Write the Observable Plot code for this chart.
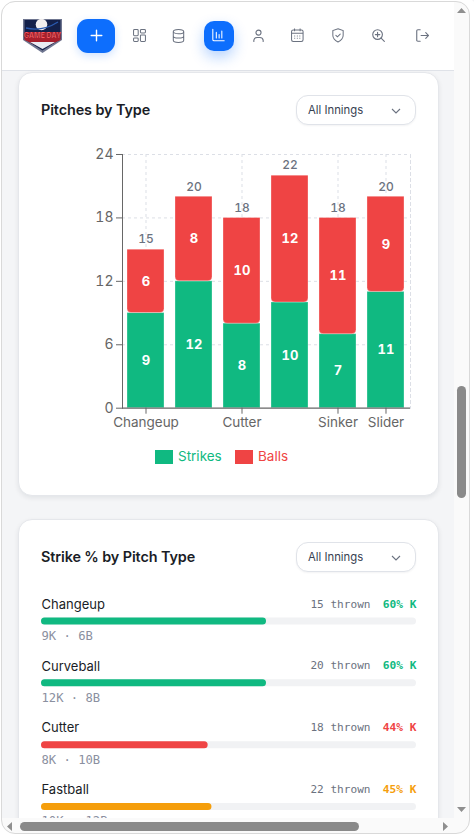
<!DOCTYPE html>
<html><head><meta charset="utf-8">
<script src="https://cdn.jsdelivr.net/npm/d3@7"></script>
<script src="https://cdn.jsdelivr.net/npm/@observablehq/plot@0.6"></script>
<style>
*{box-sizing:border-box}
html,body{margin:0;padding:0;width:474px;height:834px;overflow:hidden;background:#fff;font-family:Inter,sans-serif}
.abs{position:absolute}
#frame{position:absolute;left:0;top:0;width:474px;height:834px;overflow:hidden;background:#f4f5f7}
#nav{left:2px;top:2px;width:452px;height:69px;background:#fff;border-bottom:1px solid #dfe2e8}
.card{background:#fff;border:1px solid #e5e7eb;border-radius:14px;box-shadow:0 2px 5px rgba(16,24,40,.08);left:18px;width:421px}
.title{font-size:14.4px;font-weight:600;color:#1a1d26;left:41px;letter-spacing:-.1px;line-height:20px}
.sel{left:296px;width:120px;height:30px;border:1px solid #e0e3e9;border-radius:12px;background:#fff;font-size:11.3px;color:#374151;line-height:28px;padding-left:11px;box-shadow:0 1px 2px rgba(16,24,40,.05)}
.sel svg{position:absolute;right:14px;top:10px}
.ic{position:absolute}
#sv{left:454px;top:1px;width:20px;height:833px;background:#fafafa}
#sh{left:1px;top:818px;width:473px;height:16px;background:#fafafa}
#outline{left:1px;top:1px;width:469px;height:833px;border:1.5px solid #d9d9d9;border-radius:14px;pointer-events:none;box-shadow:0 0 0 8px #fff}
#legend{left:155px;top:450px;font-size:13.5px;line-height:14px;height:14px;white-space:nowrap}
#legend i{position:absolute;top:0;width:17.500px;height:13.500px}
#legend span{position:absolute;top:-1px}
#main,#rows{position:absolute}
#main svg,#rows svg{display:block;overflow:visible}
</style></head><body>
<div id="frame">
 <div class="abs" id="nav"></div>
 <div class="abs card" style="top:72px;height:424px"></div>
 <div class="abs card" style="top:519px;height:340px"></div>
 <div class="abs title" style="top:100px">Pitches by Type</div>
 <div class="abs sel" style="top:95px">All Innings<svg width="10" height="10" viewBox="0 0 10 10" fill="none" stroke="#6b7280" stroke-width="1.1"><path d="M1 3l4 4 4-4"/></svg></div>
 <div class="abs title" style="top:547px">Strike % by Pitch Type</div>
 <div class="abs sel" style="top:542px">All Innings<svg width="10" height="10" viewBox="0 0 10 10" fill="none" stroke="#6b7280" stroke-width="1.1"><path d="M1 3l4 4 4-4"/></svg></div>
 <div id="main"></div>
 <div id="rows"></div>
 <div class="abs" id="legend">
  <i style="left:0;background:#10b981"></i><span style="left:23px;color:#10b981">Strikes</span>
  <i style="left:80px;background:#ef4444"></i><span style="left:103px;color:#ef4444">Balls</span>
 </div>
 <div class="abs" id="nav2" style="left:0;top:0;width:454px;height:70px">
  <svg class="ic" style="left:22px;top:18px" width="41" height="36" viewBox="0 0 41 36">
   <path d="M1 1h39v21L20.500 35 1 22z" fill="#6f7690"/><path d="M2.500 2h36v19L20.500 32.500 2.500 21z" fill="#13204a"/><path d="M2.500 14h36v8L20.500 30 2.500 22z" fill="#a81f2c"/>
   <circle cx="19.500" cy="6.500" r="5.800" fill="#f1eeee"/><path d="M4 10Q20 14 36 4" fill="none" stroke="#2a5ab0" stroke-width="1.300"/>
   <text x="20.500" y="19.500" font-size="7" font-weight="800" fill="#ff5660" stroke="#111" stroke-width=".2" text-anchor="middle">GAME DAY</text>
   <path d="M8 24h25L20.500 31z" fill="#e8ebf2"/>
  </svg>
  <div class="abs" style="left:77px;top:19px;width:38px;height:34px;border-radius:11px;background:#0d6efd;box-shadow:0 3px 8px rgba(13,110,253,.2)"></div>
  <svg class="ic" style="left:88px;top:27px" width="17" height="17" viewBox="0 0 17 17" stroke="#fff" stroke-width="1.400" stroke-linecap="round"><path d="M8.500 3.200v10.600M3.200 8.500h10.600"/></svg>
  <div class="abs" style="left:204px;top:21px;width:30px;height:30px;border-radius:10px;background:#0d6efd;box-shadow:0 6px 14px rgba(13,110,253,.3)"></div>
  <svg class="ic" style="left:133px;top:29px" width="13" height="13" viewBox="0 0 14 14" fill="none" stroke="#6b7280" stroke-width="1.100"><rect x=".6" y=".6" width="5" height="6.600" rx="1"/><rect x="8" y=".6" width="5.400" height="3.600" rx="1"/><rect x="8" y="6.400" width="5.400" height="7" rx="1"/><rect x=".6" y="9.600" width="5" height="3.800" rx="1"/></svg>
  <svg class="ic" style="left:172px;top:29px" width="13" height="14" viewBox="0 0 15 16" fill="none" stroke="#6b7280" stroke-width="1.200"><ellipse cx="7.500" cy="3" rx="6" ry="2.400"/><path d="M1.500 3v10c0 1.400 2.700 2.400 6 2.400s6-1 6-2.400V3M1.500 8c0 1.400 2.700 2.400 6 2.400s6-1 6-2.400"/></svg>
  <svg class="ic" style="left:211px;top:28px" width="15" height="14" viewBox="0 0 16 16" fill="none" stroke="#fff" stroke-width="1.200" stroke-linecap="round"><path d="M1.500 1.500v11.500a1.500 1.500 0 0 0 1.500 1.500h11.500M5.500 5v6.500M8.700 7.500v4M11.800 3.500v8"/></svg>
  <svg class="ic" style="left:253px;top:29px" width="11" height="14" viewBox="0 0 13 16" fill="none" stroke="#6b7280" stroke-width="1.300"><circle cx="6.500" cy="4" r="3"/><path d="M1 14.500v-1.500a4 4 0 0 1 4-3.200h3a4 4 0 0 1 4 3.200v1.500" stroke-linecap="round"/></svg>
  <svg class="ic" style="left:291px;top:28px" width="13" height="14" viewBox="0 0 14 15" fill="none" stroke="#6b7280" stroke-width="1.100"><rect x=".6" y="2" width="12.400" height="12.400" rx="1.800"/><path d="M.6 5.600h12.400M3.800 .4v3M9.800 .4v3M3.500 8.500h1M6.300 8.500h1M9 8.500h1M3.500 11h1M6.300 11h1M9 11h1"/></svg>
  <svg class="ic" style="left:332px;top:28px" width="12" height="15" viewBox="0 0 13 16" fill="none" stroke="#6b7280" stroke-width="1.100"><path d="M6.500 .7l5.600 2v5c0 3.400-2.400 5.800-5.600 7.300C3.300 13.500.9 11.100.9 7.700v-5z"/><path d="M4.200 7.800l1.700 1.700 3-3" stroke-linecap="round"/></svg>
  <svg class="ic" style="left:372px;top:29px" width="13" height="13" viewBox="0 0 14 14" fill="none" stroke="#6b7280" stroke-width="1.200" stroke-linecap="round"><circle cx="6" cy="6" r="5.200"/><path d="M6 3.600v4.800M3.600 6h4.800M9.800 9.800l3.500 3.500"/></svg>
  <svg class="ic" style="left:416px;top:29px" width="13" height="13" viewBox="0 0 14 14" fill="none" stroke="#6b7280" stroke-width="1.200" stroke-linecap="round"><path d="M4.500 .8H2a1.200 1.200 0 0 0-1.200 1.200v10A1.200 1.200 0 0 0 2 13.200h2.500M5.500 7h8M10.500 4l3 3-3 3"/></svg>
 </div>
 <div class="abs" id="sv"></div>
 <div class="abs" id="sh"></div>
 <div class="abs" style="left:457px;top:386px;width:9px;height:112px;background:#8a8a8a;border-radius:4.500px"></div>
 <div class="abs" style="left:20px;top:822px;width:339px;height:9px;background:#8a8a8a;border-radius:4.500px"></div>
 <svg class="abs" style="left:0;top:0" width="474" height="834" fill="#8f8f8f"><path d="M457 13l4.500-5 4.500 5zM457 807l4.500 5 4.500-5zM12 822v9l-5-4.500zM443 822v9l5-4.500z"/></svg>
 <div class="abs" id="outline"></div>
</div>
<script>
const pitchTypes = ["Changeup","Curveball","Cutter","Fastball","Sinker","Slider"];
const strikes = [9,12,8,10,7,11];
const balls = [6,8,10,12,11,9];
const totals = [15,20,18,22,18,20];
const shownTypes = ["Changeup","Cutter","Sinker","Slider"];
const yTicks = [0,6,12,18,24];
const strikePct = [60,60,44,45];
const pctColors = ["#10b981","#10b981","#ef4444","#f59e0b"];
const rowLabels = ["Changeup","Curveball","Cutter","Fastball"];

const W = 318, H = 271.700;
const sans = "Inter, sans-serif", mono = "'DejaVu Sans Mono', monospace";
const idx = pitchTypes.map((_, i) => i);

const main = Plot.plot({
  width: W, height: H, marginLeft: 30, marginRight: 0, marginTop: 10, marginBottom: 8,
  style:`font-family:${sans};background:transparent;overflow:visible`,
  x:{domain:pitchTypes, paddingInner:.22, paddingOuter:.11, axis:null},
  y:{domain:[0,24], axis:null},
  marks:[
    Plot.gridY(yTicks.slice(1), {stroke:"#dcdfe6", strokeOpacity:1, strokeDasharray:"3 3", strokeWidth:1}),
    Plot.ruleX(shownTypes, {x:d=>d, stroke:"#dcdfe6", strokeDasharray:"3 3"}),
    Plot.frame({anchor:"right", stroke:"#dcdfe6", strokeDasharray:"3 3"}),
    Plot.barY(idx, {x:i=>pitchTypes[i], y:i=>strikes[i], fill:"#10b981", stroke:"#fff", strokeOpacity:.3}),
    Plot.barY(idx, {x:i=>pitchTypes[i], y1:i=>strikes[i], y2:i=>totals[i], fill:"#ef4444", stroke:"#fff", strokeOpacity:.3, ry2:4}),
    Plot.text(idx, {x:i=>pitchTypes[i], y:i=>strikes[i]/2, text:i=>strikes[i], fill:"#fff", fontFamily:sans, fontSize:13, fontWeight:700}),
    Plot.text(idx, {x:i=>pitchTypes[i], y:i=>strikes[i]+balls[i]/2, text:i=>balls[i], fill:"#fff", fontFamily:sans, fontSize:13, fontWeight:700}),
    Plot.text(idx, {x:i=>pitchTypes[i], y:i=>totals[i], text:i=>totals[i], dy:-10, fill:"#6b7280", fontFamily:sans, fontSize:12, fontWeight:500}),
    Plot.axisY({ticks:yTicks, tickSize:6, tickPadding:3, stroke:"#666", color:"#666", fontFamily:sans, fontSize:14, label:null}),
    Plot.frame({anchor:"left", stroke:"#666"}),
    Plot.ruleY([0], {stroke:"#666", strokeWidth:1.200}),
    Plot.axisX(shownTypes, {anchor:"bottom", tickSize:6, tickPadding:3, stroke:"#666", color:"#666", fontFamily:sans, fontSize:13.500, label:null, labelArrow:"none"})
  ]
});
const m = document.getElementById("main");
m.style.left = "92px"; m.style.top = "144px";
m.append(main);

const rows = Plot.plot({
  width: 375, height: 280, margin:0,
  style:`font-family:${sans};background:transparent;overflow:visible`,
  x:{domain:[0,100], axis:null},
  y:{domain:[0,3], range:[0,185.500], axis:null},
  marks:[
    Plot.rect(rowLabels, {x1:0, x2:100, y1:(d,i)=>i, y2:(d,i)=>i, insetTop:-3.500, insetBottom:-3.500, fill:"#f1f2f4", r:3.500}),
    Plot.rect(rowLabels, {x1:0, x2:(d,i)=>strikes[i]/totals[i]*100, y1:(d,i)=>i, y2:(d,i)=>i, insetTop:-3.500, insetBottom:-3.500, fill:(d,i)=>pctColors[i], r:3.500}),
    Plot.text(rowLabels, {x:0, y:(d,i)=>i, text:d=>d, dy:-17, textAnchor:"start", fontFamily:sans, fontSize:13, fill:"#1a1d26", fontWeight:400}),
    Plot.text(rowLabels, {x:100, y:(d,i)=>i, text:(d,i)=>`${strikePct[i]}% K`, dy:-17.500, textAnchor:"end", fontFamily:mono, fontSize:11.200, fontWeight:700, fill:(d,i)=>pctColors[i]}),
    Plot.text(rowLabels, {x:100, y:(d,i)=>i, text:(d,i)=>`${totals[i]} thrown`, dx:-46, dy:-17.500, textAnchor:"end", fontFamily:mono, fontSize:11.100, fill:"#6b7280"}),
    Plot.text(rowLabels, {x:0, y:(d,i)=>i, text:(d,i)=>`${strikes[i]}K · ${balls[i]}B`, dy:14.500, textAnchor:"start", fontFamily:mono, fontSize:12.200, fill:"#8b90a0"})
  ]
});
const r = document.getElementById("rows");
r.style.left = "41px"; r.style.top = "620.800px";
r.append(rows);
</script>
</body></html>
